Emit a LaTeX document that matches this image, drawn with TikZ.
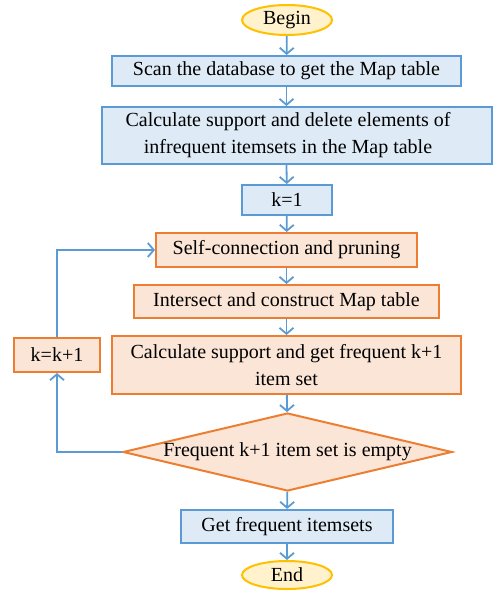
\documentclass[tikz,border=0pt]{standalone}
\usepackage{fontspec}
\setmainfont{Liberation Serif}
\usetikzlibrary{arrows.meta,shapes.geometric}
\definecolor{bline}{HTML}{5B9BD5}
\definecolor{bfill}{HTML}{DEEBF7}
\definecolor{oline}{HTML}{ED7D31}
\definecolor{ofill}{HTML}{FBE5D6}
\definecolor{yline}{HTML}{FFC000}
\definecolor{yfill}{HTML}{FFF2CC}
\tikzset{
  base/.style={inner sep=0pt, font=\fontsize{20}{27}\selectfont, align=center, line width=2pt},
  bluebox/.style={base, draw=bline, fill=bfill, rectangle},
  orangebox/.style={base, draw=oline, fill=ofill, rectangle},
  terminal/.style={base, draw=yline, fill=yfill, ellipse},
  decision/.style={base, draw=oline, fill=ofill, diamond, aspect=4.2},
  flow/.style={draw=bline, line width=1.8pt, -{Straight Barb[length=6pt,width=14pt,line width=1.8pt]}},
}
\begin{document}
\begin{tikzpicture}[x=1pt,y=-1pt]
\useasboundingbox (0,0) rectangle (501,596);
\node[terminal, minimum width=90pt, minimum height=30pt] (begin) at (287,20) {Begin};
\node[bluebox, minimum width=349pt, minimum height=30pt] (scan) at (286.5,71) {Scan the database to get the Map table};
\node[bluebox, minimum width=390pt, minimum height=57pt] (calc) at (297,135.5) {Calculate support and delete elements of\hspace*{18pt}\\infrequent itemsets in the Map table\hspace*{18pt}};
\node[bluebox, minimum width=90pt, minimum height=30pt] (k1) at (287,200) {k=1};
\node[orangebox, minimum width=261pt, minimum height=34pt] (self) at (286.5,250) {Self-connection and pruning};
\node[orangebox, minimum width=305pt, minimum height=33pt] (inter) at (286.5,301.5) {Intersect and construct Map table};
\node[orangebox, minimum width=349pt, minimum height=58pt] (calc2) at (286.5,365) {Calculate support and get frequent k+1\\item set};
\node[orangebox, minimum width=86pt, minimum height=34pt] (kk) at (57,355) {k=k+1};
\node[decision, minimum width=329pt, minimum height=78pt] (dec) at (287.5,452) {Frequent k+1 item set is empty};
\node[bluebox, minimum width=212pt, minimum height=33pt] (get) at (287,526.5) {Get frequent itemsets};
\node[terminal, minimum width=90pt, minimum height=28pt] (end) at (287,575) {End};
\draw[flow] (begin) -- (scan);
\draw[flow] (scan) -- (scan|-calc.north);
\draw[flow] (scan|-calc.south) -- (k1);
\draw[flow] (k1) -- (self);
\draw[flow] (self) -- (inter);
\draw[flow] (inter) -- (calc2);
\draw[flow] (calc2) -- (dec);
\draw[flow] (dec) -- (get);
\draw[flow] (get) -- (end);
\draw[flow] (dec.west) -| (kk.south);
\draw[flow] (kk.north) |- (self.west);
\end{tikzpicture}
\end{document}
